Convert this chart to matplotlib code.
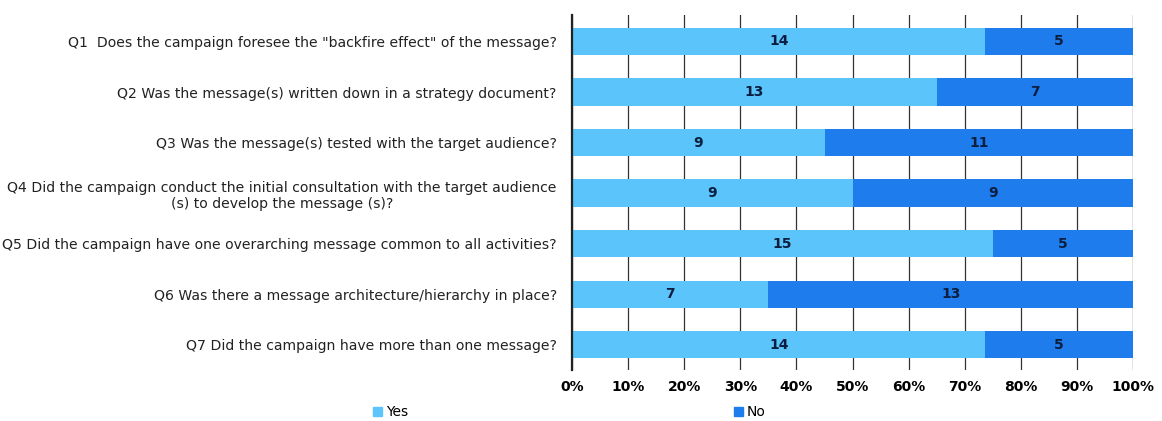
import numpy as np
import matplotlib.pyplot as plt
from matplotlib.patches import Patch

questions = [
    'Q1  Does the campaign foresee the "backfire effect" of the message?',
    'Q2 Was the message(s) written down in a strategy document?',
    'Q3 Was the message(s) tested with the target audience?',
    'Q4 Did the campaign conduct the initial consultation with the target audience\n(s) to develop the message (s)?',
    'Q5 Did the campaign have one overarching message common to all activities?',
    'Q6 Was there a message architecture/hierarchy in place?',
    'Q7 Did the campaign have more than one message?',
]
yes = [14, 13, 9, 9, 15, 7, 14]
no = [5, 7, 11, 9, 5, 13, 5]

yes_col = '#5BC4FB'
no_col = '#1F7CEC'

yes_a = np.array(yes, dtype=float)
no_a = np.array(no, dtype=float)
tot = yes_a + no_a
yes_p = yes_a / tot * 100
no_p = no_a / tot * 100

fig = plt.figure(figsize=(11.62, 4.21), dpi=100)
ax = fig.add_axes([0.4923, 0.121, 0.4828, 0.843])

y = np.arange(len(questions))
ax.barh(y, yes_p, height=0.54, color=yes_col, zorder=2)
ax.barh(y, no_p, left=yes_p, height=0.54, color=no_col, zorder=2)

for i in range(len(questions)):
    ax.text(yes_p[i] / 2, y[i], str(yes[i]), ha='center', va='center',
            fontsize=10, fontweight='bold', color='#0B1E40', zorder=3)
    ax.text(yes_p[i] + no_p[i] / 2, y[i], str(no[i]), ha='center', va='center',
            fontsize=10, fontweight='bold', color='#0B1E40', zorder=3)

ax.set_xlim(0, 100)
ax.set_ylim(6.5, -0.52)
ax.set_xticks(np.arange(0, 101, 10))
ax.set_xticklabels([f'{v}%' for v in range(0, 101, 10)], fontsize=10, fontweight='bold')
ax.xaxis.grid(True, color='#333333', linewidth=0.9, zorder=1)
ax.tick_params(axis='x', length=0, pad=7)
ax.set_yticks(y)
ax.set_yticklabels(questions, fontsize=10.1, color='#222222', multialignment='center')
ax.tick_params(axis='y', length=0, pad=11)
for s in ['top', 'right', 'bottom']:
    ax.spines[s].set_visible(False)
ax.spines['left'].set_linewidth(1.6)
ax.spines['left'].set_color('#222222')

handles = [Patch(color=yes_col, label='Yes'), Patch(color=no_col, label='No')]
fig.legend(handles=handles, loc='lower center', bbox_to_anchor=(0.49, -0.025), ncol=2,
           frameon=False, fontsize=10, handlelength=0.6, handleheight=0.6,
           handletextpad=0.3, columnspacing=23.5)

fig.savefig('out.png', dpi=100)
